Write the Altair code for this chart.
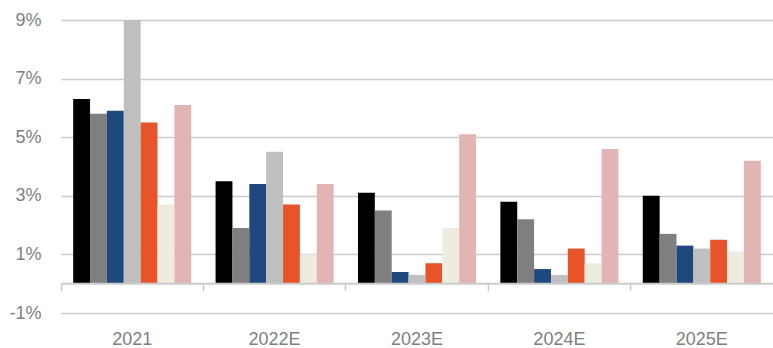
import altair as alt
import pandas as pd

years = ["2021", "2022E", "2023E", "2024E", "2025E"]
series = ["Series 1", "Series 2", "Series 3", "Series 4", "Series 5", "Series 6", "Series 7"]
colors = ["#000000", "#7f7f7f", "#1f497d", "#bfbfbf", "#e8542a", "#eeece1", "#e3b4b4"]

s1 = [6.3, 3.5, 3.1, 2.8, 3.0]
s2 = [5.8, 1.9, 2.5, 2.2, 1.7]
s3 = [5.9, 3.4, 0.4, 0.5, 1.3]
s4 = [9.0, 4.5, 0.3, 0.3, 1.2]
s5 = [5.5, 2.7, 0.7, 1.2, 1.5]
s6 = [2.7, 1.0, 1.9, 0.7, 1.1]
s7 = [6.1, 3.4, 5.1, 4.6, 4.2]

y_ticks = [-1, 1, 3, 5, 7, 9]

rows = []
for name, vals in zip(series, [s1, s2, s3, s4, s5, s6, s7]):
    for yr, v in zip(years, vals):
        rows.append({"year": yr, "series": name, "value": v})
df = pd.DataFrame(rows)

FONT = "Liberation Sans"
GRAY_TXT = "#7f7f7f"
GRID = "#cbcbcb"

PAD_IN = 0.171
xscale = alt.Scale(domain=years, paddingInner=PAD_IN, paddingOuter=PAD_IN / 2)
yscale = alt.Scale(domain=[-1, 9], nice=False)

bars = alt.Chart(df).mark_bar(clip=True).encode(
    x=alt.X("year:N", sort=years, scale=xscale, title=None,
            axis=alt.Axis(orient="bottom", domain=False, ticks=False, labelAngle=0, labelFontSize=18,
                          labelColor=GRAY_TXT, labelFont=FONT, labelPadding=17, grid=False)),
    xOffset=alt.XOffset("series:N", sort=series, scale=alt.Scale(domain=series, paddingInner=0, paddingOuter=0)),
    y=alt.Y("value:Q", scale=yscale, title=None,
            axis=alt.Axis(values=y_ticks, labelExpr="datum.value + '%'", domain=False, ticks=False,
                          labelFontSize=18, labelColor=GRAY_TXT, labelFont=FONT, labelPadding=20,
                          grid=True, gridColor=GRID, gridWidth=1.5)),
    color=alt.Color("series:N", scale=alt.Scale(domain=series, range=colors), legend=None),
)

zero = alt.Chart(pd.DataFrame({"v": [0]})).mark_rule(color=GRID, strokeWidth=2).encode(
    y=alt.Y("v:Q", scale=yscale)
)

tick_layer = alt.Chart(df).mark_bar(opacity=0).encode(
    x=alt.X("year:N", sort=years, scale=xscale, title=None,
            axis=alt.Axis(orient="bottom", labels=False, domain=False, ticks=True, tickSize=7, tickWidth=1.5,
                          tickColor=GRID, bandPosition=-(PAD_IN / 2) / (1 - PAD_IN),
                          offset=-29.3, grid=False)),
    y=alt.Y("value:Q", scale=yscale),
)

chart = alt.layer(bars, zero, tick_layer).resolve_axis(x="independent").properties(
    width=712, height=293,
    autosize=alt.AutoSizeParams(type="none"),
    padding={"left": 61, "top": 20, "right": 0, "bottom": 35},
).configure_view(stroke=None)

chart.save("out.html", embed_options={"renderer": "svg", "actions": False})
